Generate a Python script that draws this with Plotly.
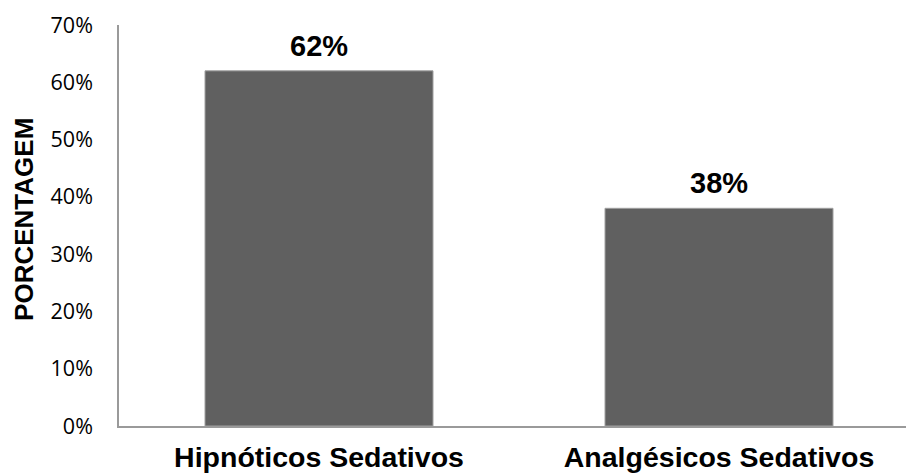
import plotly.graph_objects as go

categories = ["Hipnóticos Sedativos", "Analgésicos Sedativos"]
values = [0.62, 0.38]
value_labels = ["62%", "38%"]
y_ticks = [0, 0.1, 0.2, 0.3, 0.4, 0.5, 0.6, 0.7]

positions = list(range(len(categories)))

BOLD_FONT = "Liberation Sans, Arial, sans-serif"

fig = go.Figure()
fig.add_trace(go.Bar(
    x=positions,
    y=values,
    width=0.57,
    marker=dict(color="#606060", line=dict(color="#a0a0a0", width=1)),
    hoverinfo="skip",
))

# value labels above each bar
for pos, val, lab in zip(positions, values, value_labels):
    fig.add_annotation(
        x=pos, y=val, xref="x", yref="y",
        text=f"<b>{lab}</b>",
        showarrow=False,
        yanchor="bottom",
        yshift=7,
        font=dict(family=BOLD_FONT, size=29, color="#000000"),
    )

# vertical axis title
fig.add_annotation(
    x=(24 - 119) / 787, y=0.514, xref="paper", yref="paper",
    text="<b>PORCENTAGEM</b>",
    textangle=-90,
    showarrow=False,
    xanchor="center", yanchor="middle",
    font=dict(family=BOLD_FONT, size=26, color="#000000"),
)

fig.update_layout(
    width=906,
    height=473,
    margin=dict(l=119, r=0, t=25, b=47),
    paper_bgcolor="white",
    plot_bgcolor="white",
    showlegend=False,
)

fig.update_xaxes(
    tickmode="array",
    tickvals=positions,
    ticktext=categories,
    range=[-0.5, -0.5 + 787 / 400],
    showgrid=False,
    showline=True,
    linecolor="#9a9a9a",
    linewidth=1.5,
    ticks="",
    ticklabelstandoff=5,
    tickfont=dict(family=BOLD_FONT, size=28.5, color="#000000", weight="bold"),
    zeroline=False,
)

fig.update_yaxes(
    range=[0, 0.7],
    tickmode="array",
    tickvals=y_ticks,
    tickformat=".0%",
    showgrid=False,
    showline=True,
    linecolor="#9a9a9a",
    linewidth=1.5,
    ticks="",
    ticklabelstandoff=20,
    tickfont=dict(family="Open Sans, sans-serif", size=21.5, color="#000000"),
    zeroline=False,
)

fig.write_html("out.html")
